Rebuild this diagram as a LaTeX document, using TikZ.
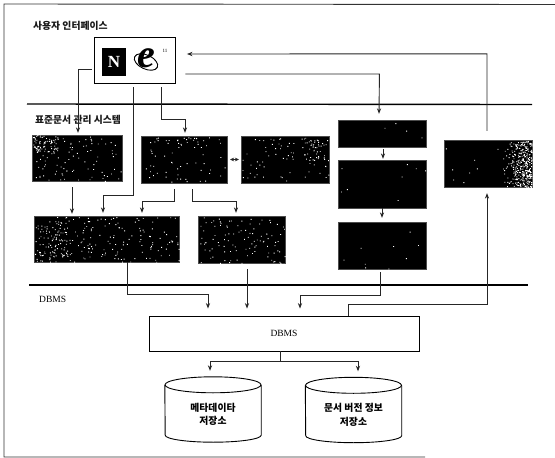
\documentclass[tikz,border=0pt]{standalone}
\usepackage{fontspec}
\setmainfont{Liberation Serif}
\newfontfamily\kr{Noto Sans CJK KR}
\usetikzlibrary{arrows.meta}
\tikzset{
  blk/.style={draw=black!70,line width=0.3pt,fill=black,inner sep=0pt},
  wbox/.style={draw=black,line width=0.9pt,fill=white,inner sep=0pt},
  conn/.style={draw=black!85,line width=0.9pt},
  arr/.style={conn,-{Stealth[length=5.5pt,width=4.2pt]}},
  both/.style={conn,{Stealth[length=4pt,width=3.8pt]}-{Stealth[length=4pt,width=3.8pt]}},
  rule/.style={draw=black,line width=1.4pt},
  frameline/.style={draw=black!80,line width=0.9pt},
  krlab/.style={font=\kr\bfseries\fontsize{9.8}{11}\selectfont,inner sep=0pt,text=black!90},
  serif/.style={font=\fontsize{9.5}{10}\selectfont,inner sep=0pt,text=black},
  cyl/.style={minimum width=96pt,minimum height=65pt,inner sep=0pt},
  cyltext/.style={inner sep=0pt,align=center,font=\kr\bfseries\fontsize{9.8}{13.5}\selectfont}
}
% white specks inside a region
\newcommand{\specks}[5]{%
  \fill[white] foreach \i in {1,...,#5} {
    [/utils/exec={\pgfmathsetmacro{\px}{#1+rnd*(#3-#1)}\pgfmathsetmacro{\py}{#2+rnd*(#4-#2)}}]
    (\px,\py) rectangle ++(0.9,0.9)
  };}
% outline of a drum around a named node
\newcommand{\drum}[1]{%
  \draw[line width=0.9pt,line join=round]
    ([yshift=-8pt]#1.north) ellipse (48 and 8);
  \draw[line width=0.9pt,line join=round]
    ([yshift=-8pt]#1.north east) -- ([yshift=7pt]#1.south east)
    arc[start angle=0,end angle=180,x radius=48,y radius=7]
    -- ([yshift=-8pt]#1.north west);}
\begin{document}
\begin{tikzpicture}[x=1pt,y=-1pt]
\pgfmathsetseed{7}
\useasboundingbox (0,0) rectangle (555,458);
\fill[white] (0,0) rectangle (555,458);
\coordinate (fTL) at (4,4); \coordinate (fTR) at (555,4.5);
\coordinate (fBL) at (4,457); \coordinate (fBR) at (425,457);
\draw[frameline] (fTR) -- (fTL) -- (fBL) -- (fBR);
\coordinate (r1a) at (27,104); \coordinate (r1b) at (532,104.5);
\coordinate (r2a) at (29,285); \coordinate (r2b) at (528,285);
\draw[rule] (r1a) -- (r1b);
\draw[rule] (r2a) -- (r2b);

\node[krlab,anchor=west] (t1) at (33,25.5) {사용자 인터페이스};
\node[krlab,anchor=west] (t2) at (35,120) {표준문서 관리 시스템};
\node[serif,anchor=west] (t3) at (39,299) {DBMS};

% browser box
\node[wbox,minimum width=81pt,minimum height=46pt] (UI) at (134.5,60) {};
\node[fill=black,minimum width=24pt,minimum height=28pt,inner sep=0pt,text=white,
  font=\bfseries\fontsize{17}{17}\selectfont] (NS) at (114,62) {N};
\draw[line width=0.9pt,rotate around={-25:(146,62)}] (146,62) ellipse (12.5 and 7);
\node[inner sep=0pt,font=\bfseries\itshape\fontsize{40}{40}\selectfont] (IE) at (146,58) {e};
\node[inner sep=0pt,font=\fontsize{5}{5}\selectfont] (tm) at (165,50.5) {11};

% dark boxes
\node[blk,minimum width=90pt,minimum height=46pt] (A) at (77,158) {};
\node[blk,minimum width=86pt,minimum height=47pt] (B) at (184,159.5) {};
\node[blk,minimum width=88pt,minimum height=47pt] (C) at (285,159.5) {};
\node[blk,minimum width=145pt,minimum height=46pt] (D) at (106.5,239) {};
\node[blk,minimum width=87pt,minimum height=47pt] (E) at (241.5,239.5) {};
\node[blk,minimum width=88pt,minimum height=27pt] (F) at (382,133.5) {};
\node[blk,minimum width=88pt,minimum height=48pt] (G) at (382,184) {};
\node[blk,minimum width=88pt,minimum height=47pt] (H) at (382,245.5) {};
\node[blk,minimum width=88pt,minimum height=47pt] (I) at (488,163.5) {};

\specks{33}{136}{122}{181}{90}
\specks{33}{135}{58}{152}{70}
\specks{142}{137}{227}{183}{50}
\specks{142}{137}{227}{143}{20}
\specks{242}{137}{329}{183}{70}
\specks{300}{137}{329}{160}{35}
\specks{35}{217}{179}{262}{170}
\specks{35}{217}{70}{262}{80}
\specks{199}{217}{285}{263}{100}
\specks{339}{121}{426}{147}{4}
\specks{339}{161}{426}{208}{8}
\specks{339}{223}{426}{269}{9}
\specks{445}{141}{505}{187}{8}
\specks{503}{141}{532}{187}{90}
\specks{512}{141}{532}{187}{130}
\specks{520}{141}{532}{187}{130}

% DBMS and stores
\node[wbox,minimum width=270pt,minimum height=35pt,font=\fontsize{9.5}{10}\selectfont] (DB) at (284,333.5) {DBMS};
\node[cyl] (M) at (213,409.5) {};
\node[cyl] (V) at (353.5,410) {};
\drum{M}
\drum{V}
\node[cyltext] (Mt) at ([yshift=-5pt]M.center) {메타데이타\\저장소};
\node[cyltext] (Vt) at ([yshift=-5pt]V.center) {문서 버전 정보\\저장소};

% connectors
\draw[arr] ([xshift=-2pt,yshift=-9pt]UI.west) -| ([xshift=1pt,yshift=2pt]A.north);
\draw[arr] ([xshift=-1.5pt,yshift=-4pt]UI.south) -- ++(0,108) -- ++(-30,0) -- ([xshift=-3.5pt,yshift=3pt]D.north);
\draw[arr] ([xshift=26.5pt,yshift=-4pt]UI.south) -- ++(0,32) -- ++(24,0) -- ([xshift=1pt,yshift=3pt]B.north);
\draw[arr] ([xshift=-5pt,yshift=-6pt]A.south) -- ([xshift=-34.5pt,yshift=2pt]D.north);
\draw[arr] ([xshift=-10pt,yshift=-6pt]B.south) -- ++(0,12) -- ++(-32,0) -- ([xshift=35.5pt,yshift=3pt]D.north);
\draw[arr] ([xshift=8pt,yshift=-6pt]B.south) -- ++(0,12) -- ++(44,0) -- ([xshift=-5.5pt,yshift=3pt]E.north);
\draw[both] ([xshift=3pt]B.east) -- ([xshift=-2pt]C.west);
\draw[arr] ([xshift=-1pt,yshift=9pt]I.north) -- ++(0,-77) -- ([xshift=11.5pt,yshift=6pt]UI.east);
\draw[arr] ([xshift=10pt,yshift=-14pt]UI.east) -- ++(194,0) -- ([xshift=-3pt,yshift=6pt]F.north);
\draw[arr] ([xshift=1pt,yshift=-2pt]F.south) -- ([xshift=1pt,yshift=1pt]G.north);
\draw[arr] ([yshift=0pt]G.south) -- ([yshift=4pt]H.north);
\draw[arr] ([xshift=20.5pt]D.south) -- ++(0,32) -- ++(81,0) -- ([xshift=-76pt,yshift=7pt]DB.north);
\draw[arr] ([xshift=5.5pt,yshift=-6pt]E.south) -- ([xshift=-37pt,yshift=7pt]DB.north);
\draw[arr] ([xshift=-2pt,yshift=-3pt]H.south) -- ++(0,23) -- ++(-80,0) -- ([xshift=16pt,yshift=7pt]DB.north);
\draw[arr] ([xshift=64pt]DB.north) -- ++(0,-11) -- ++(139,0) -- ([xshift=-1pt,yshift=-6pt]I.south);
\coordinate (split) at ([xshift=-4pt,yshift=-10pt]DB.south);
\draw[conn] ([xshift=-4pt]DB.south) -- (split);
\draw[arr] (split) -| ([xshift=-3pt,yshift=6pt]M.north);
\draw[arr] (split) -| ([xshift=4.5pt,yshift=6pt]V.north);
\end{tikzpicture}
\end{document}
